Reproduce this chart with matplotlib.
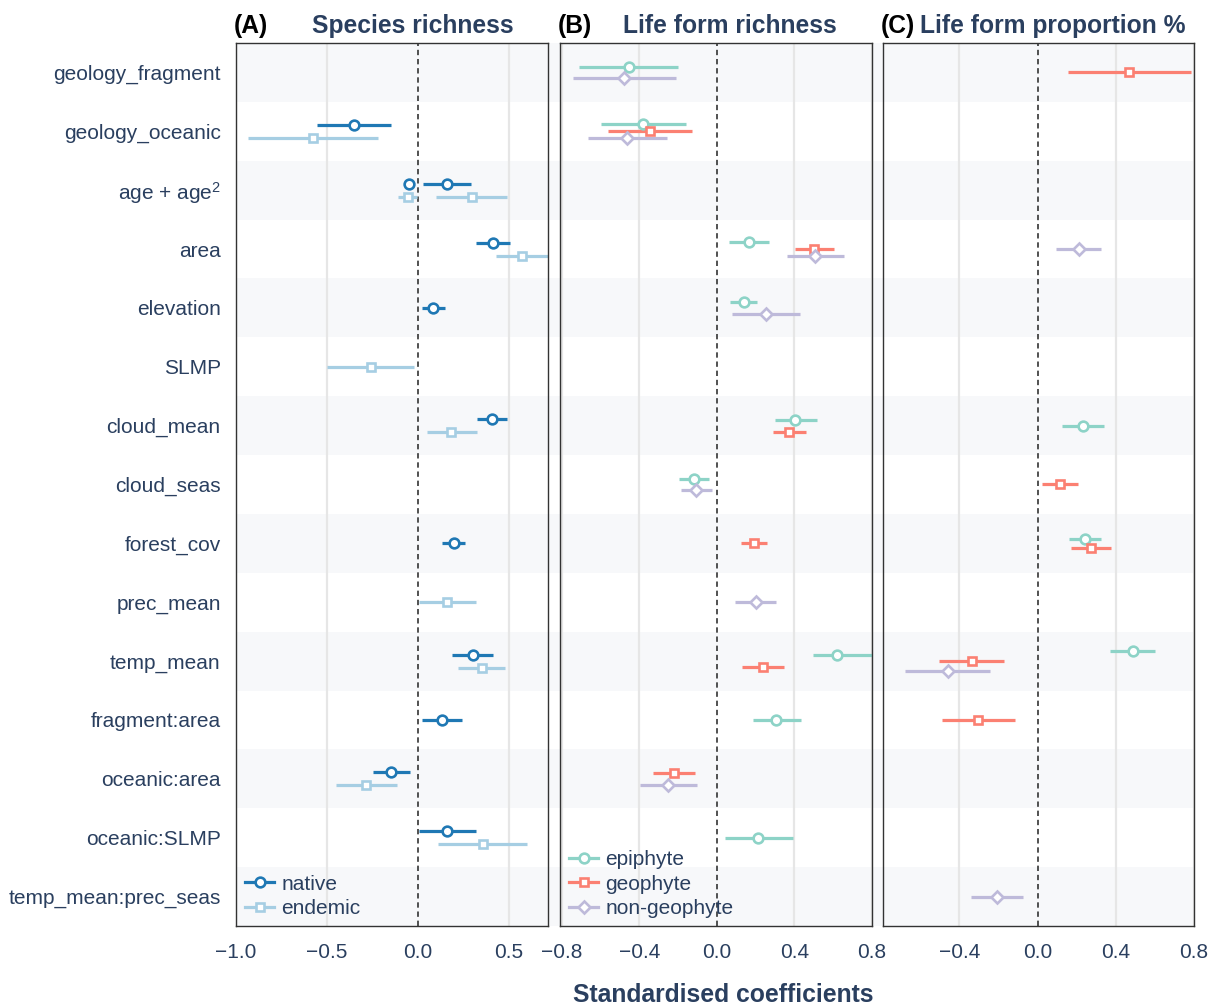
import matplotlib
matplotlib.use("Agg")
import matplotlib.pyplot as plt
from matplotlib.lines import Line2D
import numpy as np

plt.rcParams['font.family'] = ['Liberation Sans', 'DejaVu Sans']
plt.rcParams['mathtext.fontset'] = 'custom'
plt.rcParams['mathtext.rm'] = 'Liberation Sans'
plt.rcParams['mathtext.it'] = 'Liberation Sans:italic'

# ---------------- data ----------------
row_keys = ["geology_fragment", "geology_oceanic", "age", "area", "elevation", "SLMP",
            "cloud_mean", "cloud_seas", "forest_cov", "prec_mean", "temp_mean",
            "fragment:area", "oceanic:area", "oceanic:SLMP", "temp_mean:prec_seas"]
row_labels = ["geology_fragment", "geology_oceanic", "age + age$^{2}$", "area", "elevation", "SLMP",
              "cloud_mean", "cloud_seas", "forest_cov", "prec_mean", "temp_mean",
              "fragment:area", "oceanic:area", "oceanic:SLMP", "temp_mean:prec_seas"]

# Panel A: species richness
native_terms = ["geology_oceanic", "age", "age", "area", "elevation", "cloud_mean",
                "forest_cov", "temp_mean", "fragment:area", "oceanic:area", "oceanic:SLMP"]
native_est = [-0.352, -0.048, 0.159, 0.410, 0.081, 0.407, 0.196, 0.300, 0.134, -0.147, 0.161]
native_lo = [-0.553, -0.058, 0.029, 0.317, 0.024, 0.324, 0.135, 0.190, 0.024, -0.247, 0.005]
native_hi = [-0.150, -0.038, 0.289, 0.505, 0.147, 0.489, 0.260, 0.412, 0.245, -0.046, 0.321]

endemic_terms = ["geology_oceanic", "age", "age", "area", "SLMP", "cloud_mean",
                 "prec_mean", "temp_mean", "oceanic:area", "oceanic:SLMP"]
endemic_est = [-0.575, -0.057, 0.295, 0.571, -0.258, 0.183, 0.161, 0.350, -0.286, 0.355]
endemic_lo = [-0.932, -0.108, 0.099, 0.427, -0.498, 0.049, 0.007, 0.222, -0.452, 0.113]
endemic_hi = [-0.218, -0.004, 0.491, 0.760, -0.020, 0.322, 0.319, 0.478, -0.115, 0.600]

# Panel B: life form richness
epiB_terms = ["geology_fragment", "geology_oceanic", "area", "elevation", "cloud_mean",
              "cloud_seas", "temp_mean", "fragment:area", "oceanic:SLMP"]
epiB_est = [-0.455, -0.380, 0.165, 0.137, 0.403, -0.118, 0.618, 0.307, 0.212]
epiB_lo = [-0.710, -0.598, 0.062, 0.068, 0.297, -0.197, 0.493, 0.185, 0.040]
epiB_hi = [-0.202, -0.160, 0.270, 0.205, 0.518, -0.043, 0.820, 0.432, 0.390]

geoB_terms = ["geology_oceanic", "area", "cloud_mean", "forest_cov", "temp_mean", "oceanic:area"]
geoB_est = [-0.347, 0.502, 0.370, 0.190, 0.237, -0.220]
geoB_lo = [-0.560, 0.405, 0.287, 0.123, 0.127, -0.330]
geoB_hi = [-0.128, 0.605, 0.460, 0.257, 0.348, -0.113]

nonB_terms = ["geology_fragment", "geology_oceanic", "area", "elevation", "cloud_seas",
              "prec_mean", "oceanic:area"]
nonB_est = [-0.480, -0.463, 0.507, 0.252, -0.107, 0.200, -0.252]
nonB_lo = [-0.743, -0.663, 0.360, 0.077, -0.187, 0.095, -0.395]
nonB_hi = [-0.210, -0.260, 0.655, 0.428, -0.027, 0.305, -0.105]

# Panel C: life form proportion %
epiC_terms = ["cloud_mean", "forest_cov", "temp_mean"]
epiC_est = [0.233, 0.243, 0.486]
epiC_lo = [0.125, 0.159, 0.368]
epiC_hi = [0.342, 0.325, 0.603]

geoC_terms = ["geology_fragment", "cloud_seas", "forest_cov", "temp_mean", "fragment:area"]
geoC_est = [0.470, 0.115, 0.272, -0.336, -0.302]
geoC_lo = [0.157, 0.021, 0.170, -0.502, -0.490]
geoC_hi = [0.783, 0.209, 0.378, -0.172, -0.113]

nonC_terms = ["area", "temp_mean", "temp_mean:prec_seas"]
nonC_est = [0.212, -0.456, -0.208]
nonC_lo = [0.096, -0.675, -0.340]
nonC_hi = [0.327, -0.241, -0.073]

panel_titles = ["Species richness", "Life form richness", "Life form proportion %"]
panel_tags = ["(A)", "(B)", "(C)"]
xlims = [(-1.0, 0.715), (-0.81, 0.80), (-0.79, 0.80)]
xticks = [[-1.0, -0.5, 0.0, 0.5], [-0.8, -0.4, 0.0, 0.4, 0.8], [-0.4, 0.0, 0.4, 0.8]]

# ---------------- styles ----------------
TXT = "#2a3f5f"
styles = {
    "native": dict(color="#1f78b4", marker="o", ms=7.0),
    "endemic": dict(color="#a6cee3", marker="s", ms=6.0),
    "epiphyte": dict(color="#8dd3c7", marker="o", ms=7.0),
    "geophyte": dict(color="#fb8072", marker="s", ms=6.0),
    "non-geophyte": dict(color="#bebada", marker="D", ms=6.2),
}

panels = [
    [("native", native_terms, native_est, native_lo, native_hi),
     ("endemic", endemic_terms, endemic_est, endemic_lo, endemic_hi)],
    [("epiphyte", epiB_terms, epiB_est, epiB_lo, epiB_hi),
     ("geophyte", geoB_terms, geoB_est, geoB_lo, geoB_hi),
     ("non-geophyte", nonB_terms, nonB_est, nonB_lo, nonB_hi)],
    [("epiphyte", epiC_terms, epiC_est, epiC_lo, epiC_hi),
     ("geophyte", geoC_terms, geoC_est, geoC_lo, geoC_hi),
     ("non-geophyte", nonC_terms, nonC_est, nonC_lo, nonC_hi)],
]
spacings = [{1: 0, 2: 0.22, 3: 0.12}, {1: 0, 2: 0.20, 3: 0.12}, {1: 0, 2: 0.165, 3: 0.165}]

W, H = 1214, 1006
fig = plt.figure(figsize=(W / 100, H / 100), dpi=100)
fig.patch.set_facecolor("white")

ax_px = [(236, 548), (560, 872), (883, 1194)]
top_px, bot_px = 43, 926
n_rows = len(row_keys)

axes = []
for i, (l, r) in enumerate(ax_px):
    ax = fig.add_axes([l / W, 1 - bot_px / H, (r - l) / W, (bot_px - top_px) / H])
    ax.set_facecolor("none")
    axes.append(ax)

for i, ax in enumerate(axes):
    ax.set_xlim(*xlims[i])
    ax.set_ylim(n_rows - 0.5, -0.5)
    # row bands
    x0 = 0.0 if i == 0 else -0.02
    x1 = 1.0 if i == 2 else 1.02
    for k in range(n_rows):
        if k % 2 == 0:
            ax.axhspan(k - 0.5, k + 0.5, xmin=x0, xmax=x1, color="#f7f8fa", lw=0,
                       zorder=0, clip_on=False)
    # grid
    for t in xticks[i]:
        if t != 0:
            ax.axvline(t, color="#e6e6e6", lw=1.6, zorder=1)
    ax.axvline(0, color="#222222", lw=1.1, ls=(0, (3.5, 2.5)), zorder=2)

    # offsets per row based on the series present
    series = panels[i]
    present = {}
    for name, terms, *_ in series:
        for t in dict.fromkeys(terms):
            present.setdefault(t, []).append(name)

    for name, terms, est, lo, hi in series:
        st = styles[name]
        ys = []
        for t in terms:
            names = present[t]
            n = len(names)
            j = names.index(name)
            ys.append(row_keys.index(t) + (j - (n - 1) / 2) * spacings[i][n])
        ys = np.array(ys)
        ax.hlines(ys, lo, hi, color=st["color"], lw=2.3, zorder=3)
        ax.plot(est, ys, ls="none", marker=st["marker"], ms=st["ms"], mfc="white",
                mec=st["color"], mew=1.9, zorder=4)

    ax.set_xticks(xticks[i])
    ax.set_xticklabels([f"{t:.1f}".replace("-", "\u2212") for t in xticks[i]])
    ax.tick_params(axis="x", length=0, pad=12, labelsize=15, labelcolor=TXT)
    if i == 0:
        ax.set_yticks(range(n_rows))
        ax.set_yticklabels(row_labels)
        ax.tick_params(axis="y", length=0, pad=11, labelsize=15, labelcolor=TXT)
    else:
        ax.set_yticks([])
    for s in ax.spines.values():
        s.set_color("#333333")
        s.set_linewidth(1.0)
        s.set_zorder(6)

    # titles
    ax.text(-0.008, 1.006, panel_tags[i], transform=ax.transAxes, ha="left", va="bottom",
            fontsize=17.7, fontweight="bold", color="black")
    tx = [0.567, 0.545, 0.547][i]
    ax.text(tx, 1.006, panel_titles[i], transform=ax.transAxes, ha="center", va="bottom",
            fontsize=17.7, fontweight="bold", color=TXT)

# legends
def legend_handles(names):
    hs = []
    for nm in names:
        st = styles[nm]
        hs.append(Line2D([0], [0], color=st["color"], lw=2.3, marker=st["marker"],
                         ms=st["ms"], mfc="white", mec=st["color"], mew=1.9))
    return hs

for i, names in [(0, ["native", "endemic"]), (1, ["epiphyte", "geophyte", "non-geophyte"])]:
    leg = axes[i].legend(legend_handles(names), names, loc="lower left",
                         bbox_to_anchor=(-0.018, -0.008), frameon=False, fontsize=15,
                         handlelength=1.4, handletextpad=0.35, labelspacing=0.28,
                         borderaxespad=0.3)
    for t in leg.get_texts():
        t.set_color(TXT)
    leg.set_zorder(7)

fig.text(723 / W, 1 - 995 / H, "Standardised coefficients", ha="center", va="center",
         fontsize=17.8, fontweight="bold", color=TXT)

fig.savefig("out.png", dpi=100)
